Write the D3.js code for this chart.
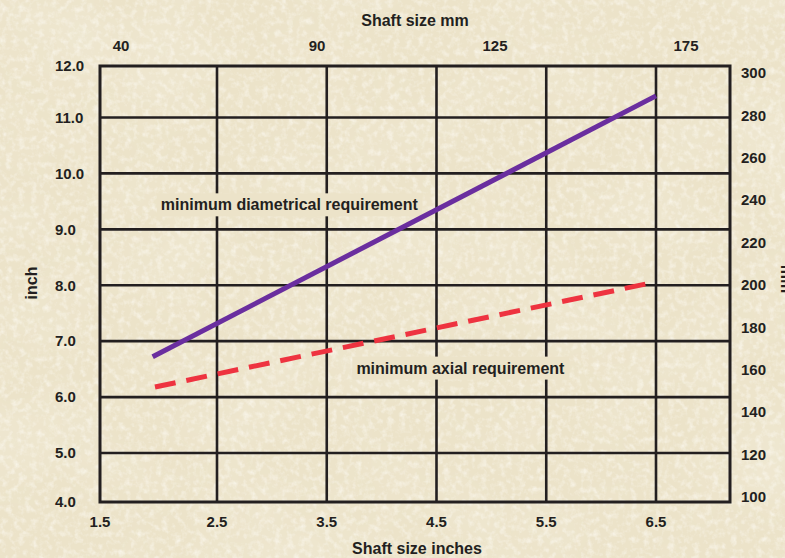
<!DOCTYPE html>
<html>
<head>
<meta charset="utf-8">
<script src="https://cdn.jsdelivr.net/npm/d3@7"></script>
<style>
body { margin: 0; background: #ebe2c6; }
text { font-family: "Liberation Sans", Arial, sans-serif; font-weight: bold; fill: #231f20; }
</style>
</head>
<body>
<div id="chart"></div>
<script>
let w = 785;
let h = 558;

// data
let inchTicks = [1.5, 2.5, 3.5, 4.5, 5.5, 6.5];
let inchGrid = [2.5, 3.5, 4.5, 5.5, 6.5];
let reqTicks = [4, 5, 6, 7, 8, 9, 10, 11, 12];
let reqGrid = [5, 6, 7, 8, 9, 10, 11];
let mmTopTicks = [40, 90, 125, 175];
let mmRightTicks = [100, 120, 140, 160, 180, 200, 220, 240, 260, 280, 300];
let diametrical = [{inch: 1.95, req: 6.72}, {inch: 6.5, req: 11.42}];
let axial = [{inch: 1.97, req: 6.18}, {inch: 6.45, req: 8.04}];
let notes = [
    {text: "minimum diametrical requirement", inch: 2.02, req: 9.44},
    {text: "minimum axial requirement", inch: 3.77, req: 6.52}
];

let frame = {left: 100, right: 730, top: 66, bottom: 502};
let ink = "#231f20";
let paper = "#ece3c9";

let svg = d3.select("#chart").append("svg")
    .attr("width", w)
    .attr("height", h);

// parchment texture, kept soft
let defs = svg.append("defs");
let f1 = defs.append("filter").attr("id", "speck").attr("x", 0).attr("y", 0).attr("width", 1).attr("height", 1);
f1.append("feTurbulence").attr("type", "fractalNoise").attr("baseFrequency", "0.16").attr("numOctaves", 3).attr("seed", 3);
f1.append("feColorMatrix").attr("type", "matrix")
    .attr("values", "0 0 0 0 0.98  0 0 0 0 0.96  0 0 0 0 0.9  1.4 0 0 0 -0.62");
let f2 = defs.append("filter").attr("id", "blotch").attr("x", 0).attr("y", 0).attr("width", 1).attr("height", 1);
f2.append("feTurbulence").attr("type", "fractalNoise").attr("baseFrequency", "0.01").attr("numOctaves", 3).attr("seed", 8);
f2.append("feColorMatrix").attr("type", "matrix")
    .attr("values", "0 0 0 0 0.88  0 0 0 0 0.83  0 0 0 0 0.68  1.2 0 0 0 -0.5");

svg.append("rect").attr("width", w).attr("height", h).attr("fill", paper);
svg.append("rect").attr("width", w).attr("height", h).attr("filter", "url(#blotch)");
svg.append("rect").attr("width", w).attr("height", h).attr("filter", "url(#speck)");

// scales (the source grid is not evenly spaced at the frame edges)
let x = d3.scaleLinear().domain([1.5, 2.5, 6.5]).range([100, 217, 656]);
let y = d3.scaleLinear().domain([4, 5, 11, 12]).range([502, 453, 117.5, 66]);
let mmTop = d3.scaleLinear().domain(mmTopTicks).range([121, 317, 495, 686]);
let mmRight = d3.scaleLinear().domain([100, 300]).range([497, 73]);

// grid
let grid = svg.append("g").attr("stroke", ink).attr("stroke-width", 2.6);
grid.selectAll(".hg").data(reqGrid).join("line")
    .attr("x1", frame.left).attr("x2", frame.right)
    .attr("y1", d => y(d)).attr("y2", d => y(d));
grid.selectAll(".vg").data(inchGrid).join("line")
    .attr("y1", frame.top).attr("y2", frame.bottom)
    .attr("x1", d => x(d)).attr("x2", d => x(d));
svg.append("rect")
    .attr("x", frame.left).attr("y", frame.top)
    .attr("width", frame.right - frame.left).attr("height", frame.bottom - frame.top)
    .attr("fill", "none").attr("stroke", ink).attr("stroke-width", 3);

// note labels with paper behind them
let note = svg.selectAll(".note").data(notes).join("g").attr("class", "note")
    .attr("transform", d => "translate(" + x(d.inch) + "," + y(d.req) + ")");
note.append("text")
    .attr("dy", "0.35em")
    .attr("font-size", 16)
    .text(d => d.text);
note.each(function() {
    let g = d3.select(this);
    let bb = g.select("text").node().getBBox();
    g.insert("rect", "text")
        .attr("x", bb.x - 4).attr("y", bb.y - 3)
        .attr("width", bb.width + 8).attr("height", bb.height + 6)
        .attr("fill", paper);
});

// lines
let line = d3.line().x(d => x(d.inch)).y(d => y(d.req));
svg.append("path").datum(diametrical)
    .attr("d", line)
    .attr("fill", "none")
    .attr("stroke", "#6a2e9f")
    .attr("stroke-width", 5);
svg.append("path").datum(axial)
    .attr("d", line)
    .attr("fill", "none")
    .attr("stroke", "#ee3340")
    .attr("stroke-width", 5)
    .attr("stroke-dasharray", "21,11");

// tick labels
svg.append("g").selectAll("text").data(reqTicks).join("text")
    .attr("x", 55).attr("y", d => y(d)).attr("dy", "0.35em")
    .attr("text-anchor", "start").attr("font-size", 15)
    .text(d3.format(".1f"));
svg.append("g").selectAll("text").data(inchTicks).join("text")
    .attr("x", d => x(d)).attr("y", 522).attr("dy", "0.35em")
    .attr("text-anchor", "middle").attr("font-size", 15)
    .text(d => d.toFixed(1));
svg.append("g").selectAll("text").data(mmTopTicks).join("text")
    .attr("x", d => mmTop(d)).attr("y", 46).attr("dy", "0.35em")
    .attr("text-anchor", "middle").attr("font-size", 15)
    .text(d => d);
svg.append("g").selectAll("text").data(mmRightTicks).join("text")
    .attr("x", 741).attr("y", d => mmRight(d)).attr("dy", "0.35em")
    .attr("text-anchor", "start").attr("font-size", 15)
    .text(d => d);

// axis titles
svg.append("text").attr("x", 415).attr("y", 20).attr("dy", "0.35em")
    .attr("text-anchor", "middle").attr("font-size", 16).text("Shaft size mm");
svg.append("text").attr("x", 417).attr("y", 548).attr("dy", "0.35em")
    .attr("text-anchor", "middle").attr("font-size", 16).text("Shaft size inches");
svg.append("text").attr("transform", "translate(31,283) rotate(-90)").attr("dy", "0.35em")
    .attr("text-anchor", "middle").attr("font-size", 16).text("inch");
// right-hand title runs off the edge, as in the source
svg.append("text").attr("transform", "translate(781,279) rotate(90)")
    .attr("text-anchor", "middle").attr("font-size", 16).text("mm");
</script>
</body>
</html>
